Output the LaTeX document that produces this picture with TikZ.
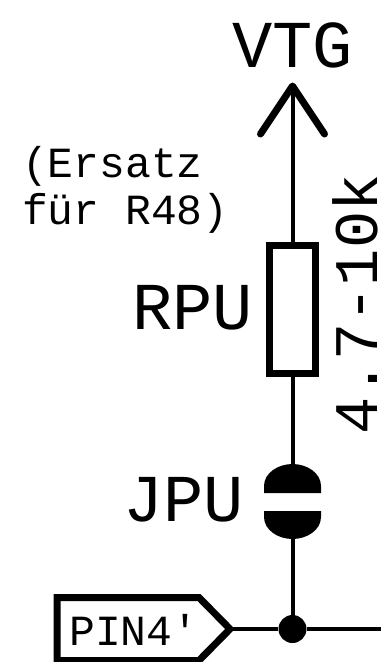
\documentclass[tikz,border=0pt]{standalone}
\usepackage{fontspec}
\setmonofont{Liberation Mono}
\begin{document}
\begin{tikzpicture}[x=1pt, y=-1pt, font=\ttfamily]

        % Styles
        \tikzstyle{wire} = [draw=black, line width=4pt]
        \tikzstyle{body} = [draw=black, line width=7pt]
        \tikzstyle{bigtext} = [inner sep=0pt, anchor=base west, font=\ttfamily\fontsize{67}{67}\selectfont]
        \tikzstyle{smalltext} = [inner sep=0pt, anchor=base west, align=left, font=\ttfamily\fontsize{43}{47}\selectfont]

        \useasboundingbox (0,0) rectangle (381,662);

        % Supply
        \coordinate (apex) at (292.5,86);
        \coordinate (armleft) at (260.5,134);
        \coordinate (armright) at (324.5,134);
        \node[bigtext] (vtg) at (232,67) {VTG};
        \draw[line width=7pt, line cap=round, line join=round] (armleft) -- (apex) -- (armright);

        % Resistor
        \node[body, minimum width=46pt, minimum height=128pt, inner sep=0pt] (rpu) at (292.5,309) {};
        \node[bigtext] (rpulabel) at (132,329) {RPU};
        \node[inner sep=0pt, anchor=base west, rotate=90, text depth=0pt, font=\ttfamily\fontsize{62}{62}\selectfont] (value) at (377,435) {4.7-10k};
        \node[smalltext, anchor=north west] (note) at (22,146) {(Ersatz\\für R48)};

        % Jumper
        \fill (264,493) -- (264,486) .. controls (264,473) and (278,464) .. (292.5,464) .. controls (307,464) and (321,473) .. (321,486) -- (321,493) -- cycle;
        \fill (264,511) -- (264,517) .. controls (264,530) and (278,539) .. (292.5,539) .. controls (307,539) and (321,530) .. (321,517) -- (321,511) -- cycle;
        \coordinate (jputop) at (292.5,466);
        \coordinate (jpubottom) at (292.5,537);
        \node[bigtext] (jpulabel) at (123,521) {JPU};

        % Pin
        \draw[body, line join=miter] (57,597.5) -- (199,597.5) -- (230,629) -- (199,660.5) -- (57,660.5) -- cycle;
        \coordinate (pintip) at (230,629);
        \node[smalltext] (pin) at (69,645) {PIN4'};

        % Net
        \node[circle, fill=black, minimum size=28pt, inner sep=0pt] (junction) at (292.5,629) {};
        \coordinate (netend) at (381,629);
        \draw[wire] (apex) -- (rpu.north);
        \draw[wire] (rpu.south) -- (jputop);
        \draw[wire] (jpubottom) -- (junction);
        \draw[wire] (pintip) -- (junction) -- (netend);

    \end{tikzpicture}
\end{document}
